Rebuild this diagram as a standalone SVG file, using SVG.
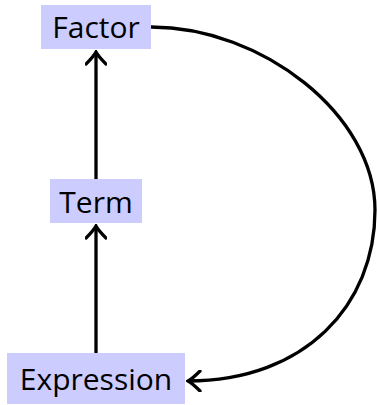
<svg xmlns="http://www.w3.org/2000/svg" width="377" height="405" viewBox="0 0 377 405">
<defs>
<style>
.box{fill:#ccccff;stroke:none}
.lbl{font-family:"Open Sans","Noto Sans","DejaVu Sans",sans-serif;font-size:30px;font-weight:500;fill:#000;text-anchor:middle}
.edge{fill:none;stroke:#000;stroke-width:3.3}
</style>
<marker id="arr" markerUnits="userSpaceOnUse" viewBox="-15 -11 17 22" refX="0" refY="0" markerWidth="17" markerHeight="22" orient="auto">
<path d="M-12,-10 Q-4,-2 0,0 Q-4,2 -12,10" fill="none" stroke="#000" stroke-width="3.3" stroke-linecap="round"/>
</marker>
</defs>
<rect width="377" height="405" fill="#fff"/>
<g id="connectors">
<line class="edge" x1="96" y1="179" x2="96" y2="52" marker-end="url(#arr)"/>
<line class="edge" x1="96" y1="353" x2="96" y2="226" marker-end="url(#arr)"/>
<path class="edge" d="M151,27 C262,27 375,115 375,210 C375,305 305,381 188,381" marker-end="url(#arr)"/>
</g>
<g id="factor">
<rect class="box" x="41" y="5" width="110" height="44"/>
<text class="lbl" x="96" y="38">Factor</text>
</g>
<g id="term">
<rect class="box" x="50" y="179" width="92" height="44"/>
<text class="lbl" x="96" y="213">Term</text>
</g>
<g id="expression">
<rect class="box" x="7" y="353" width="178" height="51"/>
<text class="lbl" x="96" y="390">Expression</text>
</g>
</svg>
